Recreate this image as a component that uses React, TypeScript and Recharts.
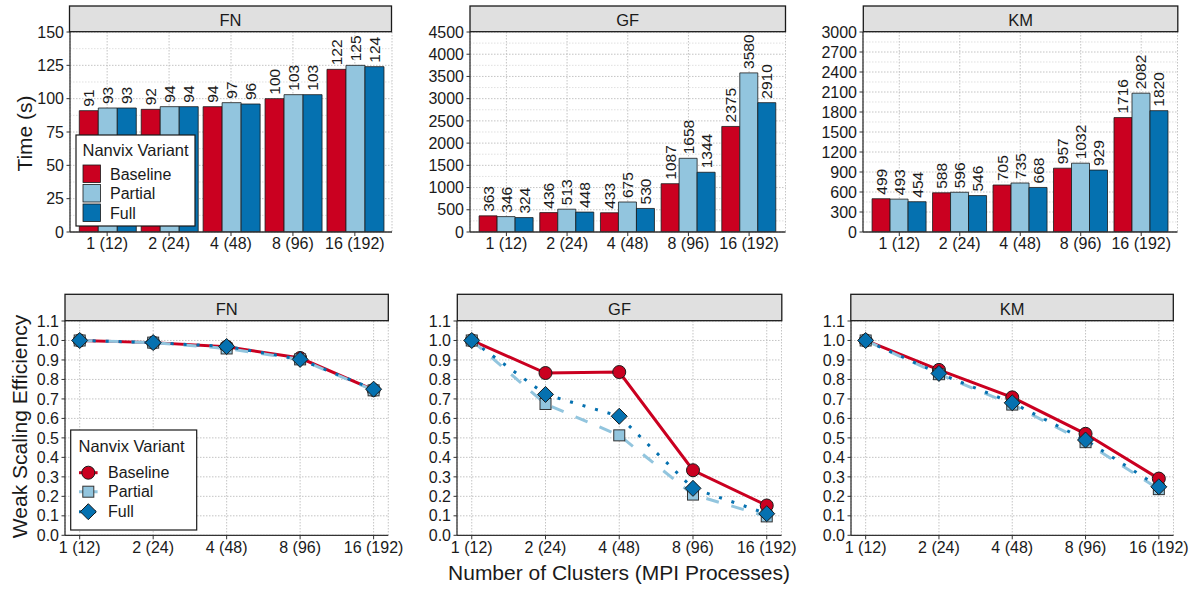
import React from 'react';
import { BarChart, Bar, LineChart, Line, XAxis, YAxis, CartesianGrid, LabelList } from 'recharts';

const categories = ['1 (12)', '2 (24)', '4 (48)', '8 (96)', '16 (192)'];
const variants = ['Baseline', 'Partial', 'Full'];
const colors: Record<string, string> = { Baseline: '#CA0020', Partial: '#92C5DE', Full: '#0571B0' };

// Execution time (s)
const fnTimeBaseline = [91, 92, 94, 100, 122];
const fnTimePartial = [93, 94, 97, 103, 125];
const fnTimeFull = [93, 94, 96, 103, 124];
const gfTimeBaseline = [363, 436, 433, 1087, 2375];
const gfTimePartial = [346, 513, 675, 1658, 3580];
const gfTimeFull = [324, 448, 530, 1344, 2910];
const kmTimeBaseline = [499, 588, 705, 957, 1716];
const kmTimePartial = [493, 596, 735, 1032, 2082];
const kmTimeFull = [454, 546, 668, 929, 1820];

// Weak scaling efficiency
const fnEffBaseline = [1.0, 0.989, 0.968, 0.91, 0.746];
const fnEffPartial = [1.0, 0.989, 0.959, 0.903, 0.744];
const fnEffFull = [1.0, 0.989, 0.969, 0.903, 0.75];
const gfEffBaseline = [1.0, 0.833, 0.838, 0.334, 0.153];
const gfEffPartial = [1.0, 0.674, 0.513, 0.209, 0.097];
const gfEffFull = [1.0, 0.723, 0.611, 0.241, 0.111];
const kmEffBaseline = [1.0, 0.849, 0.708, 0.521, 0.291];
const kmEffPartial = [1.0, 0.827, 0.671, 0.478, 0.237];
const kmEffFull = [1.0, 0.831, 0.68, 0.489, 0.249];

// Axis ticks
const fnTimeTicks = [0, 25, 50, 75, 100, 125, 150];
const fnTimeMinor = [12.5, 37.5, 62.5, 87.5, 112.5, 137.5];
const gfTimeTicks = [0, 500, 1000, 1500, 2000, 2500, 3000, 3500, 4000, 4500];
const gfTimeMinor = [250, 750, 1250, 1750, 2250, 2750, 3250, 3750, 4250];
const kmTimeTicks = [0, 300, 600, 900, 1200, 1500, 1800, 2100, 2400, 2700, 3000];
const kmTimeMinor = [150, 450, 750, 1050, 1350, 1650, 1950, 2250, 2550, 2850];
const effTicks = [0, 0.1, 0.2, 0.3, 0.4, 0.5, 0.6, 0.7, 0.8, 0.9, 1.0, 1.1];

const makeRows = (b: number[], p: number[], f: number[]) =>
  categories.map((c, i) => ({ cat: c, Baseline: b[i], Partial: p[i], Full: f[i] }));

const fontFamily = '"Liberation Sans", Arial, Helvetica, sans-serif';
const textColor = '#1a1a1a';
const axisColor = '#333333';

type Box = { x: number; y: number; w: number; h: number };

const YW = 60;
const MT = 10;
const MR = 30;
const XH = 30;

const tickStyle = { fontSize: 16, fill: textColor, fontFamily };

const renderBarLabel = (props: any) => {
  const { x, y, width, value } = props;
  const cx = Number(x) + Number(width) / 2;
  const ty = Number(y) - 4;
  return (
    <text
      x={cx}
      y={ty}
      transform={`rotate(-90 ${cx} ${ty})`}
      textAnchor="start"
      dominantBaseline="central"
      fontSize={15.5}
      fill={textColor}
      fontFamily={fontFamily}
    >
      {value}
    </text>
  );
};

function BarPanel({ box, data, ticks, minor, max }: { box: Box; data: any[]; ticks: number[]; minor: number[]; max: number }) {
  const band = box.w / 5.2;
  const pad = band * 0.1;
  return (
    <div style={{ position: 'absolute', left: box.x - YW, top: box.y - MT }}>
      <BarChart
        width={YW + box.w + MR}
        height={MT + box.h + XH}
        data={data}
        margin={{ top: MT, right: MR, left: 0, bottom: 0 }}
        barCategoryGap="5%"
        barGap={0}
        style={{ overflow: 'visible' }}
      >
        <CartesianGrid horizontalValues={minor} vertical={false} stroke="#d2d2d2" strokeDasharray="1.5 1.5" strokeWidth={0.7} />
        <CartesianGrid stroke="#bdbdbd" strokeDasharray="1.5 1.5" strokeWidth={0.9} />
        <XAxis
          dataKey="cat"
          padding={{ left: pad, right: pad }}
          height={XH}
          tick={tickStyle}
          tickSize={4}
          tickMargin={2}
          interval={0}
          axisLine={{ stroke: axisColor, strokeWidth: 1.3 }}
          tickLine={{ stroke: axisColor }}
        />
        <YAxis
          width={YW}
          domain={[0, max]}
          ticks={ticks}
          interval={0}
          allowDataOverflow
          tick={tickStyle}
          tickSize={3.5}
          tickMargin={2.5}
          axisLine={{ stroke: axisColor, strokeWidth: 1.3 }}
          tickLine={{ stroke: axisColor }}
        />
        {variants.map((v) => (
          <Bar key={v} dataKey={v} fill={colors[v]} stroke="#1a1a1a" strokeWidth={0.8} isAnimationActive={false}>
            <LabelList dataKey={v} content={renderBarLabel} />
          </Bar>
        ))}
      </BarChart>
    </div>
  );
}

const makeDot = (variant: string) => (props: any) => {
  const { cx, cy, index } = props;
  if (cx == null || cy == null) return <g key={`e-${variant}-${index}`} />;
  const k = `${variant}-${index}`;
  if (variant === 'Baseline') {
    return <circle key={k} cx={cx} cy={cy} r={6.5} fill={colors.Baseline} stroke="#1a1a1a" strokeWidth={1} />;
  }
  if (variant === 'Partial') {
    return <rect key={k} x={cx - 5.5} y={cy - 5.5} width={11} height={11} fill={colors.Partial} stroke="#333" strokeWidth={1} />;
  }
  const d = 8;
  return (
    <polygon
      key={k}
      points={`${cx},${cy - d} ${cx + d},${cy} ${cx},${cy + d} ${cx - d},${cy}`}
      fill={colors.Full}
      stroke="#1a1a1a"
      strokeWidth={1}
    />
  );
};

const lineDash: Record<string, string | undefined> = { Baseline: undefined, Partial: '13 13', Full: '3 10' };

function LinePanel({ box, data }: { box: Box; data: any[] }) {
  const pad = box.w / 22;
  return (
    <div style={{ position: 'absolute', left: box.x - YW, top: box.y - MT }}>
      <LineChart
        width={YW + box.w + MR}
        height={MT + box.h + XH}
        data={data}
        margin={{ top: MT, right: MR, left: 0, bottom: 0 }}
        style={{ overflow: 'visible' }}
      >
        <CartesianGrid stroke="#bdbdbd" strokeDasharray="1.5 1.5" strokeWidth={0.9} />
        <XAxis
          dataKey="cat"
          scale="point"
          padding={{ left: pad, right: pad }}
          height={XH}
          tick={tickStyle}
          tickSize={4}
          tickMargin={2}
          interval={0}
          axisLine={{ stroke: axisColor, strokeWidth: 1.3 }}
          tickLine={{ stroke: axisColor }}
        />
        <YAxis
          width={YW}
          domain={[0, 1.1]}
          ticks={effTicks}
          interval={0}
          allowDataOverflow
          tickFormatter={(v: number) => v.toFixed(1)}
          tick={tickStyle}
          tickSize={3.5}
          tickMargin={2.5}
          axisLine={{ stroke: axisColor, strokeWidth: 1.3 }}
          tickLine={{ stroke: axisColor }}
        />
        {variants.map((v) => (
          <Line
            key={`line-${v}`}
            type="linear"
            dataKey={v}
            stroke={colors[v]}
            strokeWidth={3}
            strokeDasharray={lineDash[v]}
            dot={false}
            activeDot={false}
            isAnimationActive={false}
          />
        ))}
        {variants.map((v) => (
          <Line
            key={`pts-${v}`}
            type="linear"
            dataKey={v}
            stroke="none"
            dot={makeDot(v)}
            activeDot={false}
            isAnimationActive={false}
          />
        ))}
      </LineChart>
    </div>
  );
}

const topBoxes: Box[] = [
  { x: 69.5, y: 31.7, w: 322, h: 200 },
  { x: 470, y: 31.7, w: 315.5, h: 200 },
  { x: 863.3, y: 31.7, w: 314.5, h: 200 },
];
const bottomBoxes: Box[] = [
  { x: 65, y: 320.7, w: 323.3, h: 214.3 },
  { x: 457.3, y: 320.7, w: 324.5, h: 214.3 },
  { x: 850.8, y: 320.7, w: 322.5, h: 214.3 },
];
const panelTitles = ['FN', 'GF', 'KM'];

function Overlay() {
  const strips = [
    ...topBoxes.map((b, i) => ({ x: b.x, y: 6, w: b.w, h: b.y - 6, t: panelTitles[i] })),
    ...bottomBoxes.map((b, i) => ({ x: b.x, y: 294.3, w: b.w, h: b.y - 294.3, t: panelTitles[i] })),
  ];
  const barKeysY = [165, 184.5, 204];
  const lineKeysY = [472.7, 491.7, 511.7];
  return (
    <svg width={1200} height={590} style={{ position: 'absolute', left: 0, top: 0, pointerEvents: 'none' }}>
      {strips.map((s, i) => (
        <g key={i}>
          <rect x={s.x} y={s.y} width={s.w} height={s.h} fill="#e0e0e0" stroke="#1a1a1a" strokeWidth={1.3} />
          <text x={s.x + s.w / 2} y={s.y + s.h / 2 + 1} textAnchor="middle" dominantBaseline="central" fontSize={16.5} fill={textColor} fontFamily={fontFamily}>
            {s.t}
          </text>
        </g>
      ))}
      <text x={24} y={133.5} transform="rotate(-90 24 133.5)" textAnchor="middle" dominantBaseline="central" fontSize={21} fill={textColor} fontFamily={fontFamily}>
        Time (s)
      </text>
      <text x={19} y={426.5} transform="rotate(-90 19 426.5)" textAnchor="middle" dominantBaseline="central" fontSize={21} fill={textColor} fontFamily={fontFamily}>
        Weak Scaling Efficiency
      </text>
      <text x={619} y={572} textAnchor="middle" dominantBaseline="central" fontSize={21} fill={textColor} fontFamily={fontFamily}>
        Number of Clusters (MPI Processes)
      </text>

      {/* Bar legend */}
      <rect x={76} y={135} width={119} height={91} fill="#ffffff" stroke="#1a1a1a" strokeWidth={1.2} />
      <text x={82.5} y={149.5} dominantBaseline="central" fontSize={16.5} fill={textColor} fontFamily={fontFamily}>
        Nanvix Variant
      </text>
      {variants.map((v, i) => (
        <g key={v}>
          <rect x={83} y={barKeysY[i]} width={17.5} height={17.5} fill={colors[v]} stroke="#1a1a1a" strokeWidth={0.8} />
          <text x={110} y={barKeysY[i] + 9} dominantBaseline="central" fontSize={16} fill={textColor} fontFamily={fontFamily}>
            {v}
          </text>
        </g>
      ))}

      {/* Line legend */}
      <rect x={70.7} y={430} width={126} height={100} fill="#ffffff" stroke="#1a1a1a" strokeWidth={1.2} />
      <text x={78.5} y={445.5} dominantBaseline="central" fontSize={16.5} fill={textColor} fontFamily={fontFamily}>
        Nanvix Variant
      </text>
      {variants.map((v, i) => {
        const cy = lineKeysY[i];
        const cx = 88.3;
        return (
          <g key={v}>
            <line x1={79} x2={97.6} y1={cy} y2={cy} stroke={colors[v]} strokeWidth={3} strokeDasharray={v === 'Partial' ? '4 11' : v === 'Full' ? '3 4' : undefined} />
            {makeDot(v)({ cx, cy, index: 99 })}
            <text x={108} y={cy} dominantBaseline="central" fontSize={16} fill={textColor} fontFamily={fontFamily}>
              {v}
            </text>
          </g>
        );
      })}
    </svg>
  );
}

export default function App() {
  const timeData = [
    { rows: makeRows(fnTimeBaseline, fnTimePartial, fnTimeFull), ticks: fnTimeTicks, minor: fnTimeMinor, max: 150 },
    { rows: makeRows(gfTimeBaseline, gfTimePartial, gfTimeFull), ticks: gfTimeTicks, minor: gfTimeMinor, max: 4500 },
    { rows: makeRows(kmTimeBaseline, kmTimePartial, kmTimeFull), ticks: kmTimeTicks, minor: kmTimeMinor, max: 3000 },
  ];
  const effData = [
    makeRows(fnEffBaseline, fnEffPartial, fnEffFull),
    makeRows(gfEffBaseline, gfEffPartial, gfEffFull),
    makeRows(kmEffBaseline, kmEffPartial, kmEffFull),
  ];
  return (
    <div style={{ position: 'absolute', left: 0, top: 0, width: 1200, height: 590, background: '#ffffff', fontFamily }}>
      {timeData.map((d, i) => (
        <BarPanel key={`bar-${i}`} box={topBoxes[i]} data={d.rows} ticks={d.ticks} minor={d.minor} max={d.max} />
      ))}
      {effData.map((d, i) => (
        <LinePanel key={`line-${i}`} box={bottomBoxes[i]} data={d} />
      ))}
      <Overlay />
    </div>
  );
}
